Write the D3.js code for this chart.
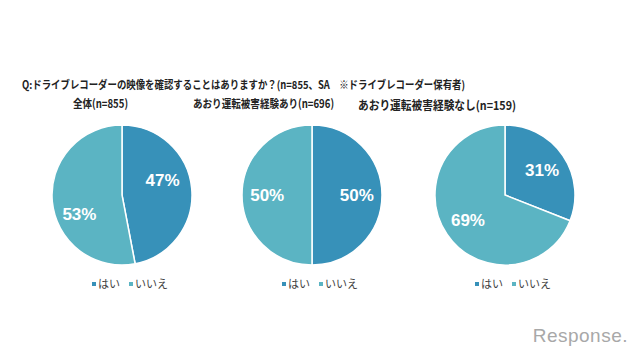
<!DOCTYPE html>
<html><head><meta charset="utf-8">
<script src="https://cdn.jsdelivr.net/npm/d3@7"></script>
<style>body{margin:0;background:#fff}svg{display:block}</style>
</head><body>
<svg id="c" width="640" height="360"></svg>
<script>
const title = "Q:ドライブレコーダーの映像を確認することはありますか？(n=855、SA　※ドライブレコーダー保有者)";
const groups = ["全体(n=855)", "あおり運転被害経験あり(n=696)", "あおり運転被害経験なし(n=159)"];
const categories = ["はい", "いいえ"];
const hai = [47, 50, 31];
const iie = [53, 50, 69];
const colors = ["#3791b9", "#5bb4c3"];

const svg = d3.select("#c");
const font = "'Noto Sans CJK JP', sans-serif";

svg.append("text").attr("x", 22).attr("y", 89).attr("font-family", font)
  .attr("font-size", 11).attr("font-weight", "bold").attr("fill", "#222")
  .attr("textLength", 443).attr("lengthAdjust", "spacingAndGlyphs").text(title);

const xs = [122, 312, 505];
const titleX = [73, 193, 358];
const titleW = [55, 141, 158];
const titleY = [108, 108, 110];
const titleFs = [11.5, 11.5, 12];
// manual label nudges (as placed in the original chart)
const labelNudge = [[[-4, -11], [2, 15]], [[0, 0], [0, 0]], [[0, 0], [0, 0]]];
const r = 70;
const pie = d3.pie().sort(null).startAngle(0).endAngle(2 * Math.PI);
const arc = d3.arc().innerRadius(0).outerRadius(r);
const lab = d3.arc().innerRadius(r * 0.64).outerRadius(r * 0.64);

groups.forEach((g, i) => {
  const cx = xs[i], cy = 195;
  svg.append("text").attr("x", titleX[i]).attr("y", titleY[i])
    .attr("font-family", font).attr("font-size", titleFs[i]).attr("font-weight", "bold").attr("fill", "#222")
    .attr("textLength", titleW[i]).attr("lengthAdjust", "spacingAndGlyphs").text(g);
  const vals = [hai[i], iie[i]];
  const gg = svg.append("g").attr("transform", `translate(${cx},${cy})`);
  const arcs = pie(vals);
  gg.selectAll("path").data(arcs).join("path").attr("d", arc)
    .attr("fill", (d, j) => colors[j]).attr("stroke", "#fff").attr("stroke-width", 1.5);
  gg.selectAll("text").data(arcs).join("text")
    .attr("transform", (d, j) => {
      const c = lab.centroid(d);
      return `translate(${c[0] + labelNudge[i][j][0]},${c[1] + labelNudge[i][j][1]})`;
    })
    .attr("text-anchor", "middle").attr("dy", "0.36em")
    .attr("font-family", "'Liberation Sans', Arial, sans-serif").attr("font-size", 17).attr("font-weight", "bold")
    .attr("fill", "#fff").text(d => d.data + "%");
  const lg = svg.append("g").attr("transform", `translate(${cx - 30},284)`);
  const offs = [0, 37];
  categories.forEach((c, j) => {
    lg.append("rect").attr("x", offs[j]).attr("y", -2).attr("width", 4).attr("height", 4).attr("fill", colors[j]);
    lg.append("text").attr("x", offs[j] + 6).attr("y", 0).attr("dy", "0.36em")
      .attr("font-family", font).attr("font-size", 11).attr("fill", "#444").text(c);
  });
});

svg.append("text").attr("x", 628).attr("y", 342).attr("text-anchor", "end")
  .attr("font-family", "'Liberation Sans', sans-serif").attr("font-size", 19)
  .attr("fill", "#a8a8a8").attr("letter-spacing", 0.5).text("Response.");
</script>
</body></html>
